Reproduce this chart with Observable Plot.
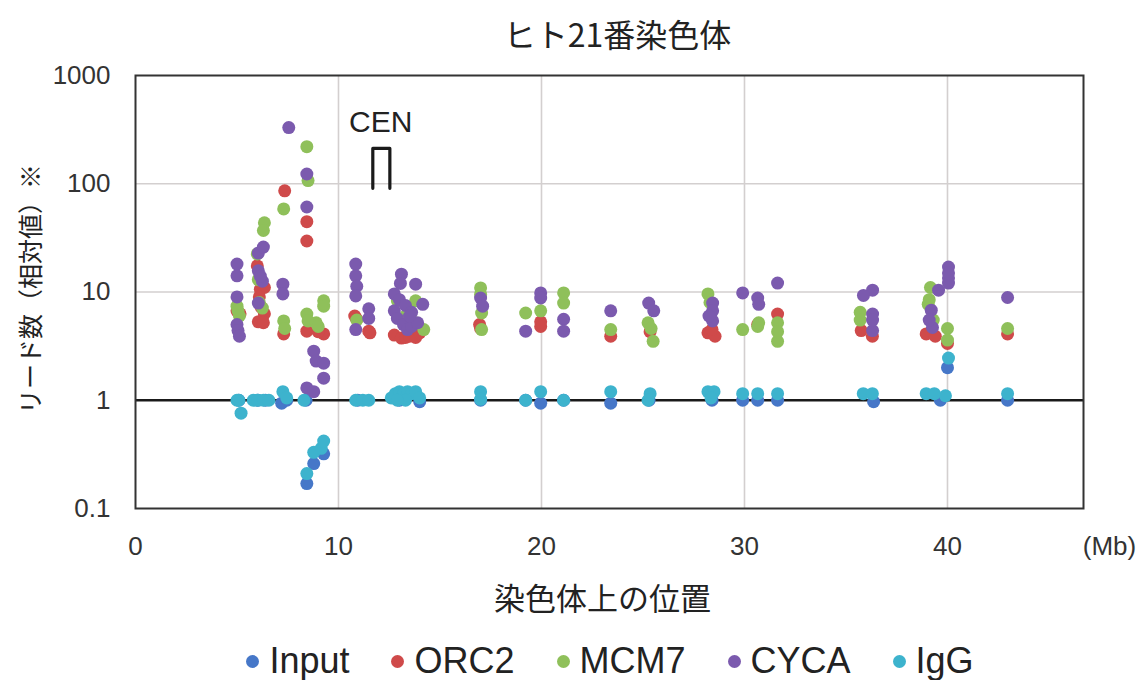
<!DOCTYPE html>
<html>
<head>
<meta charset="utf-8">
<script src="https://cdn.jsdelivr.net/npm/d3@7"></script>
<script src="https://cdn.jsdelivr.net/npm/@observablehq/plot@0.6"></script>
<style>
  html, body { margin: 0; padding: 0; background: #fff; }
  #wrap { width: 1147px; height: 680px; overflow: hidden; font-family: "Liberation Sans", Arial, "Noto Sans CJK JP", sans-serif; }
  #title { height: 62px; line-height: 66px; font-size: 32px; text-align: center; padding-left: 88px; box-sizing: border-box; color: #222; font-family: "Noto Sans CJK JP", sans-serif; }
  #legend { height: 38px; display: flex; justify-content: center; align-items: center; padding-left: 73px; box-sizing: border-box; }
  .item { display: flex; align-items: center; margin: 0 21px; font-size: 36px; color: #222; line-height: 38px; }
  .dot { width: 13px; height: 13px; border-radius: 50%; margin-right: 10px; }
  #chart svg { display: block; }
</style>
</head>
<body>
<div id="wrap">
  <div id="title"></div>
  <div id="chart"></div>
  <div id="legend"></div>
</div>
<script>
// ---- texts ----
const titleText = "ヒト21番染色体";
const xTitle = "染色体上の位置";
const yTitle = "リード数（相対値）※";
const xUnit = "(Mb)";

// ---- series ----
const seriesNames = ["Input", "ORC2", "MCM7", "CYCA", "IgG"];
const seriesColors = ["#4677c8", "#cf4a4a", "#8fc05a", "#7b5aae", "#3db3cd"];

// ---- ticks ----
const xTicks = [0, 10, 20, 30, 40];
const yTicks = [0.1, 1, 10, 100, 1000];

// ---- values: [position (Mb), relative read count] ----
const inputData = [[5.09,1.0],[6.03,1.0],[6.4,1.0],[7.2,0.94],[7.45,1.0],[8.4,1.0],[8.44,0.17],[8.78,0.26],[9.27,0.32],[10.95,1.0],[13.0,1.0],[14.0,0.97],[17.0,1.0],[19.22,1.0],[19.96,0.94],[21.09,1.0],[23.41,0.94],[25.3,1.0],[28.4,1.0],[29.91,1.0],[30.65,1.0],[31.63,1.0],[36.36,0.97],[39.65,1.0],[40.0,2.0],[42.96,1.0]];

const orc2Data = [[5.0,6.7],[5.15,6.3],[6.0,17.4],[6.15,10.6],[6.25,5.4],[6.05,5.3],[6.35,6.3],[6.35,11],[6.1,9.0],[6.2,7.2],[6.3,5.2],[7.35,86],[7.3,4.1],[8.44,44.6],[8.44,29.6],[8.44,4.35],[9.27,4.1],[9.0,4.3],[10.8,6.0],[10.9,5.6],[11.49,4.35],[11.55,4.2],[12.75,4.0],[13.1,3.75],[13.3,3.8],[13.5,3.9],[13.8,3.8],[14.0,4.2],[16.95,5.0],[17.0,4.6],[19.96,4.8],[19.96,5.3],[23.41,3.9],[25.35,4.3],[28.2,4.2],[28.55,3.9],[28.4,4.5],[30.65,5.0],[31.63,6.25],[35.75,4.4],[36.3,3.9],[38.95,4.1],[39.4,3.9],[40.0,3.35],[42.96,4.1]];

const mcm7Data = [[5.0,7.4],[5.05,6.7],[5.12,6.0],[6.0,22.5],[6.35,43.6],[6.3,37],[6.25,7.1],[6.1,8.0],[6.05,13],[7.3,58.5],[7.3,5.4],[7.35,4.6],[8.44,220],[8.5,107],[8.44,6.25],[8.5,5.4],[8.9,5.2],[9.0,4.8],[9.27,8.3],[9.27,7.4],[10.9,5.5],[12.9,8.3],[13.8,8.3],[14.2,4.5],[13.3,6.0],[13.6,5.5],[17.0,10.9],[17.0,9.5],[17.05,6.4],[17.05,4.5],[19.22,6.4],[19.96,6.7],[21.09,9.8],[21.09,7.9],[23.41,4.5],[25.25,5.2],[25.5,3.5],[25.4,4.6],[28.2,9.6],[28.3,8.0],[29.91,4.5],[30.65,4.8],[30.7,5.2],[31.63,5.2],[31.63,3.5],[31.63,4.3],[35.7,6.5],[35.7,5.5],[39.16,11],[39.05,7.7],[39.1,8.5],[39.3,5.5],[40.0,4.6],[40.0,3.6],[42.96,4.6]];

const cycaData = [[5.0,18.1],[5.0,14.1],[5.0,9.0],[5.0,5.0],[5.05,4.4],[5.12,3.9],[6.05,22.9],[6.3,26],[6.05,15.7],[6.25,12.6],[6.15,14],[6.05,7.9],[7.55,330],[7.26,11.8],[7.26,9.6],[8.44,123],[8.44,61],[8.44,1.3],[8.78,2.84],[8.9,2.3],[8.78,1.2],[9.27,2.2],[9.27,1.6],[10.85,18.1],[10.85,14.1],[10.9,11.3],[10.85,9.2],[10.85,4.5],[11.49,7.0],[11.49,5.7],[13.1,14.6],[13.05,12],[13.8,11.8],[14.15,7.7],[12.75,9.6],[12.75,6.7],[13.0,8.5],[13.3,7.5],[13.6,6.5],[12.9,5.7],[13.2,5.0],[13.4,4.5],[13.6,4.8],[13.9,5.2],[13.5,6.0],[17.0,8.8],[17.1,7.4],[19.22,4.35],[19.96,9.8],[19.96,8.8],[21.09,5.6],[21.09,4.35],[23.41,6.7],[25.28,7.9],[25.53,6.7],[28.43,7.9],[28.43,6.7],[28.43,5.4],[28.25,6.0],[29.91,9.8],[30.65,8.8],[30.7,7.7],[31.63,12.1],[36.31,10.4],[35.86,9.3],[36.31,6.25],[36.31,4.4],[36.31,5.5],[39.2,6.8],[39.56,10.4],[39.26,4.7],[39.1,5.5],[40.05,17],[40.05,13.5],[40.05,12.1],[40.05,15],[42.96,8.9]];

const iggData = [[5.0,1.0],[5.09,1.0],[5.2,0.76],[5.8,1.0],[6.03,1.0],[6.3,1.0],[6.57,1.0],[7.26,1.2],[7.45,1.05],[8.3,1.0],[8.44,0.21],[8.78,0.33],[9.15,0.36],[9.27,0.42],[10.85,1.0],[11.2,1.0],[11.49,1.0],[12.6,1.05],[12.8,1.15],[13.0,1.2],[13.2,1.15],[13.4,1.2],[13.6,1.15],[13.8,1.2],[14.0,1.05],[13.3,1.0],[12.9,1.0],[17.0,1.2],[17.0,1.02],[19.22,1.0],[19.96,1.2],[21.09,1.0],[23.41,1.2],[25.35,1.15],[25.25,1.0],[28.2,1.2],[28.5,1.2],[28.35,1.05],[29.91,1.15],[30.65,1.15],[31.63,1.15],[35.85,1.15],[36.3,1.15],[38.95,1.15],[39.35,1.15],[39.9,1.1],[40.05,2.45],[42.96,1.15]];

// ---- centromere annotation ----
const cenLabel = ["CEN"];
const cenLabelPos = [12.08];
const cenLabelVal = [365];
const cenBracketPos = [11.69, 11.69, 12.53, 12.53];
const cenBracketVal = [90.7, 212, 212, 90.7];

// ---- build table ----
const seriesData = [inputData, orc2Data, mcm7Data, cycaData, iggData];
const table = seriesData.flatMap((arr, i) => arr.map(([pos, value]) => ({series: seriesNames[i], pos, value})));
const cenBracket = cenBracketPos.map((p, i) => ({pos: p, value: cenBracketVal[i]}));
const cenText = cenLabel.map((t, i) => ({label: t, pos: cenLabelPos[i], value: cenLabelVal[i]}));

document.getElementById("title").textContent = titleText;

const chart = Plot.plot({
  width: 1147,
  height: 580,
  marginTop: 13,
  marginBottom: 134,
  marginLeft: 135,
  marginRight: 64,
  style: {fontFamily: '"Liberation Sans", Arial, "Noto Sans CJK JP", sans-serif', fontSize: "26px", color: "#333", background: "#fff", overflow: "visible"},
  x: {domain: [0, 46.7]},
  y: {type: "log", domain: [0.1, 1000]},
  color: {domain: seriesNames, range: seriesColors},
  marks: [
    Plot.gridX(xTicks.slice(1), {stroke: "#d3cfcf", strokeOpacity: 1, strokeWidth: 1.6}),
    Plot.gridY([10, 100], {stroke: "#d3cfcf", strokeOpacity: 1, strokeWidth: 1.6}),
    Plot.ruleY([1], {stroke: "#1a1a1a", strokeWidth: 2.5}),
    Plot.axisX(xTicks, {tickSize: 0, tickPadding: 28, label: null, tickFormat: d => String(d), fill: "#333"}),
    Plot.axisY(yTicks, {tickSize: 0, tickPadding: 25, label: null, tickFormat: d => String(d), fill: "#333"}),
    Plot.dot(table, {x: "pos", y: "value", fill: "series", r: 6.5}),
    Plot.line(cenBracket, {x: "pos", y: "value", stroke: "#1a1a1a", strokeWidth: 3.2}),
    Plot.text(cenText, {x: "pos", y: "value", text: "label", fontSize: 30, fill: "#222"}),
    Plot.text([xUnit], {text: d => d, frameAnchor: "bottom-right", textAnchor: "middle", lineAnchor: "middle", dx: 26, dy: 38, fill: "#333"}),
    Plot.text([xTitle], {text: d => d, frameAnchor: "bottom", textAnchor: "middle", lineAnchor: "middle", dx: -7, dy: 92, fontSize: 31, fill: "#222"}),
    Plot.text([yTitle], {text: d => d, frameAnchor: "left", textAnchor: "middle", lineAnchor: "middle", dx: -104, dy: -3, rotate: -90, fontSize: 25, fill: "#222"}),
    Plot.frame({stroke: "#333", strokeWidth: 2})
  ]
});
document.getElementById("chart").appendChild(chart);

const legend = document.getElementById("legend");
seriesNames.forEach((name, i) => {
  const item = document.createElement("div");
  item.className = "item";
  const dot = document.createElement("span");
  dot.className = "dot";
  dot.style.background = seriesColors[i];
  const label = document.createElement("span");
  label.textContent = name;
  item.appendChild(dot);
  item.appendChild(label);
  legend.appendChild(item);
});
</script>
</body>
</html>
